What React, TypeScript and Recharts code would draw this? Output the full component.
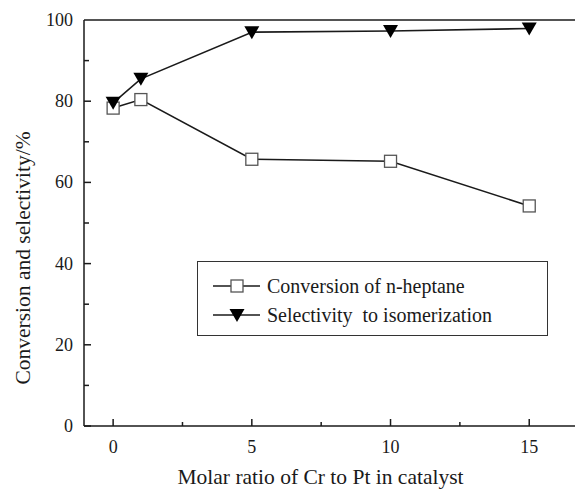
import { LineChart, Line, XAxis, YAxis, Legend } from 'recharts';

const crRatio = [0, 1, 5, 10, 15];
const conversion = [78.3, 80.4, 65.7, 65.2, 54.2];
const selectivity = [79.6, 85.5, 97.0, 97.3, 97.9];

const xTicks = [0, 2.5, 5, 7.5, 10, 12.5, 15];
const xMajor = [0, 5, 10, 15];
const yTicks = [0, 10, 20, 30, 40, 50, 60, 70, 80, 90, 100];
const yMajor = [0, 20, 40, 60, 80, 100];

const seriesNames: Record<string, string> = {
  conversion: 'Conversion of n-heptane',
  selectivity: 'Selectivity  to isomerization',
};

const FONT = "'Liberation Serif', 'Times New Roman', serif";
const INK = '#1a1a1a';

const data = crRatio.map((r, i) => ({
  ratio: r,
  conversion: conversion[i],
  selectivity: selectivity[i],
}));

function SquareDot(props: any) {
  const { cx, cy, index } = props;
  if (cx == null || cy == null) return null;
  return <rect key={`sq-${index}`} x={cx - 6} y={cy - 6} width={12} height={12} fill="#fff" stroke="#555" strokeWidth={1.3} />;
}

function TriangleDot(props: any) {
  const { cx, cy, index } = props;
  if (cx == null || cy == null) return null;
  return <path key={`tri-${index}`} d={`M${cx - 7.5},${cy - 6} L${cx + 7.5},${cy - 6} L${cx},${cy + 7} Z`} fill="#000" />;
}

function XTick(props: any) {
  const { x, y, payload } = props;
  const major = xMajor.includes(payload.value);
  return (
    <g>
      <line x1={x} x2={x} y1={y} y2={y - (major ? 7 : 4)} stroke={INK} strokeWidth={1.5} />
      {major && (
        <text x={x} y={y + 27} textAnchor="middle" fontFamily={FONT} fontSize={18} fill={INK}>
          {payload.value}
        </text>
      )}
    </g>
  );
}

function YTick(props: any) {
  const { x, y, payload } = props;
  const major = yMajor.includes(payload.value);
  return (
    <g>
      {payload.value !== 100 && (
        <line x1={x} x2={x + (major ? 7 : 5)} y1={y} y2={y} stroke={INK} strokeWidth={1.5} />
      )}
      {major && (
        <text x={x - 11} y={y + 6} textAnchor="end" fontFamily={FONT} fontSize={18} fill={INK}>
          {payload.value}
        </text>
      )}
    </g>
  );
}

function XLabel(props: any) {
  const { viewBox } = props;
  const cx = viewBox.x + viewBox.width / 2 - 9;
  const by = viewBox.y + viewBox.height + 57;
  return (
    <text x={cx} y={by} textAnchor="middle" fontFamily={FONT} fontSize={21.5} fill={INK}>
      Molar ratio of Cr to Pt in catalyst
    </text>
  );
}

function YLabel(props: any) {
  const { viewBox } = props;
  const cx = viewBox.x - 60;
  const cy = viewBox.y + viewBox.height / 2 + 35;
  return (
    <text x={cx} y={cy} transform={`rotate(-90, ${cx}, ${cy})`} textAnchor="middle" dominantBaseline="central" fontFamily={FONT} fontSize={21.5} fill={INK}>
      Conversion and selectivity/%
    </text>
  );
}

function LegendBox(props: any) {
  const { payload } = props;
  return (
    <div style={{ width: 351, height: 75, boxSizing: 'border-box', border: `1.5px solid #333`, background: '#fff', position: 'relative' }}>
      {(payload || []).map((entry: any, i: number) => (
        <div key={entry.dataKey} style={{ position: 'absolute', left: 14, top: 11 + i * 29, height: 26, display: 'flex', alignItems: 'center' }}>
          <svg width={50} height={20}>
            <line x1={1} x2={48} y1={10} y2={10} stroke={INK} strokeWidth={1.5} />
            {entry.dataKey === 'conversion' ? (
              <rect x={19} y={4} width={12} height={12} fill="#fff" stroke="#555" strokeWidth={1.3} />
            ) : (
              <path d="M17.5,4 L32.5,4 L25,17 Z" fill="#000" />
            )}
          </svg>
          <span style={{ fontFamily: FONT, fontSize: 20, color: INK, marginLeft: 5, whiteSpace: 'pre' }}>
            {seriesNames[entry.dataKey]}
          </span>
        </div>
      ))}
    </div>
  );
}

export default function App() {
  return (
    <div style={{ position: 'absolute', left: 0, top: 0, background: '#fff' }}>
      <LineChart width={575} height={490} data={data} margin={{ top: 19, right: 0, left: 83, bottom: 63 }}>
        <XAxis
          dataKey="ratio"
          type="number"
          domain={[-1.05, 16.65]}
          ticks={xTicks}
          height={1}
          tickSize={0}
          tickMargin={0}
          tickLine={false}
          tick={<XTick />}
          axisLine={{ stroke: INK, strokeWidth: 1.5 }}
          label={{ content: <XLabel /> }}
        />
        <XAxis
          xAxisId="top"
          orientation="top"
          dataKey="ratio"
          type="number"
          domain={[-1.05, 16.65]}
          height={1}
          tick={false}
          tickLine={false}
          axisLine={{ stroke: INK, strokeWidth: 1.5 }}
        />
        <YAxis
          type="number"
          domain={[0, 100]}
          ticks={yTicks}
          width={1}
          tickSize={0}
          tickMargin={0}
          tickLine={false}
          tick={<YTick />}
          axisLine={{ stroke: INK, strokeWidth: 1.5 }}
          label={{ content: <YLabel /> }}
        />
        <Legend
          layout="horizontal"
          verticalAlign="middle"
          align="center"
          content={<LegendBox />}
          wrapperStyle={{ left: 197, top: 261, width: 351, height: 75 }}
        />
        <Line
          dataKey="conversion"
          name={seriesNames.conversion}
          stroke={INK}
          strokeWidth={1.6}
          dot={<SquareDot />}
          activeDot={false}
          isAnimationActive={false}
        />
        <Line
          dataKey="selectivity"
          name={seriesNames.selectivity}
          stroke={INK}
          strokeWidth={1.6}
          dot={<TriangleDot />}
          activeDot={false}
          isAnimationActive={false}
        />
      </LineChart>
    </div>
  );
}
